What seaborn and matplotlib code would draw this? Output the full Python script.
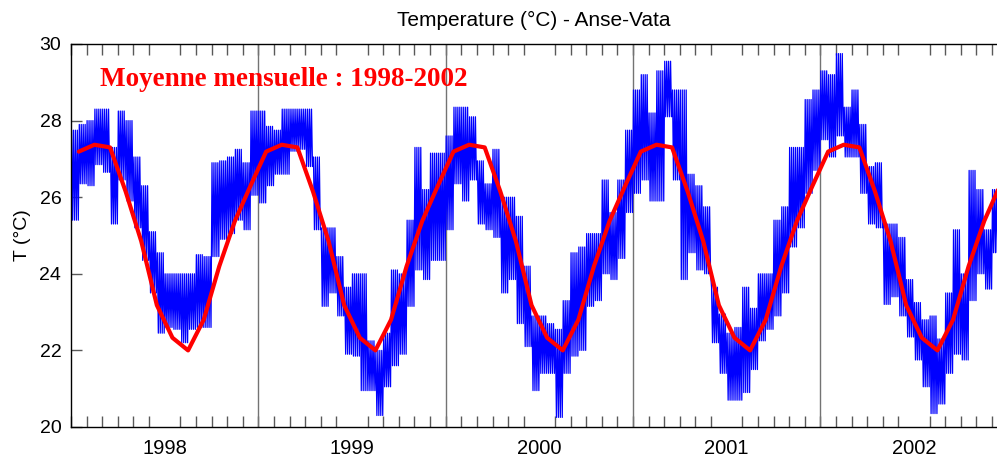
import numpy as np
import pandas as pd
import matplotlib
matplotlib.use("Agg")
import matplotlib.pyplot as plt
import seaborn as sns

# ---------------- data ----------------
years = [1998, 1999, 2000, 2001, 2002]
year_labels = ["1998", "1999", "2000", "2001", "2002"]

# monthly mean climatology 1998-2002 (Jan..Dec), °C
monthly_mean = [27.19, 27.37, 27.30, 26.15, 24.85, 23.18,
                22.33, 22.00, 22.80, 24.20, 25.38, 26.30]

# envelope of the high-frequency record, one pair per half-month from Jan 1998
temp_high = [27.75, 27.9, 28.0, 28.3, 28.3, 27.3, 28.25, 28.0, 27.05, 26.3,
             25.1, 24.55, 24.0, 24.0, 24.0, 24.0, 24.5, 24.45, 26.9, 26.95,
             27.05, 27.25, 26.9, 28.25, 28.25, 27.85, 27.75, 28.3, 28.3, 28.3,
             28.3, 27.05, 25.2, 25.2, 24.45, 23.65, 24.0, 24.0, 22.25, 22.0,
             22.45, 24.1, 24.0, 25.4, 27.3, 26.2, 27.15, 27.15, 27.6, 28.35,
             28.35, 28.1, 26.95, 26.35, 27.25, 26.0, 26.0, 25.5, 24.2, 22.9,
             22.9, 22.7, 22.55, 23.3, 24.55, 24.7, 25.05, 25.05, 26.45, 25.6,
             26.45, 27.75, 28.8, 29.2, 28.2, 29.3, 29.55, 28.8, 28.8, 26.6,
             26.3, 25.75, 23.65, 22.95, 22.45, 22.6, 23.65, 23.1, 24.0, 24.0,
             25.4, 25.75, 27.3, 27.3, 28.55, 28.8, 29.3, 29.2, 29.75, 28.35,
             28.8, 27.9, 26.8, 26.9, 25.3, 25.3, 24.95, 23.85, 23.25, 22.8,
             22.9, 22.3, 23.5, 25.15, 24.0, 26.7, 26.2, 25.15, 26.2]
temp_low = [25.4, 26.35, 26.3, 26.85, 26.65, 25.3, 26.45, 25.9, 25.2, 24.35,
            23.5, 22.45, 22.6, 22.55, 22.2, 22.55, 22.6, 22.6, 24.45, 24.9,
            25.05, 25.4, 25.15, 26.05, 25.85, 26.3, 26.6, 26.6, 27.2, 27.25,
            26.8, 25.15, 23.15, 23.5, 22.9, 21.9, 21.85, 20.95, 20.95, 20.3,
            21.05, 21.6, 21.9, 23.15, 24.1, 23.85, 24.35, 24.35, 25.15, 26.35,
            25.9, 26.45, 25.3, 25.15, 24.95, 23.5, 23.85, 22.7, 22.1, 20.95,
            21.4, 21.4, 20.25, 21.4, 21.85, 22.0, 23.15, 23.3, 24.0, 23.85,
            24.4, 25.6, 26.1, 26.45, 25.9, 25.9, 28.1, 26.45, 23.85, 24.55,
            24.1, 24.0, 22.2, 21.4, 20.7, 20.7, 20.9, 21.5, 22.25, 22.55,
            22.9, 23.5, 24.7, 25.2, 26.1, 26.7, 27.5, 27.05, 27.6, 27.05,
            27.05, 26.1, 25.3, 25.2, 23.2, 23.4, 22.9, 22.35, 21.75, 21.05,
            20.35, 20.6, 21.4, 21.9, 21.75, 23.3, 24.0, 23.6, 24.55]

title = "Temperature (°C) - Anse-Vata"
ylabel = "T (°C)"
annotation = "Moyenne mensuelle : 1998-2002"

# ---------------- tables ----------------
red_x = [y + (m + 0.5) / 12 for y in years for m in range(12)]
red_y = monthly_mean * len(years)
df_mean = pd.DataFrame({"t": red_x, "T": red_y})

half = 1 / 24
n_sub = 8
bx, by = [], []
for k, (h, l) in enumerate(zip(temp_high, temp_low)):
    x0 = years[0] + k * half
    for j in range(n_sub):
        bx.append(x0 + (j + 0.5) * half / n_sub)
        by.append(h if j % 2 == 0 else l)
df_raw = pd.DataFrame({"t": bx, "T": by})

# ---------------- figure ----------------
sns.set_theme(style="ticks")
plt.rcParams["font.family"] = ["Liberation Sans", "DejaVu Sans"]

fig = plt.figure(figsize=(9.97, 4.57), dpi=100)
ax = fig.add_axes([71 / 997, 30 / 457, 926 / 997, 383 / 457])

sns.lineplot(data=df_raw, x="t", y="T", ax=ax, color="#0000ff", lw=0.9,
             estimator=None, sort=False, zorder=2)
sns.lineplot(data=df_mean, x="t", y="T", ax=ax, color="#ff0000", lw=3.0,
             estimator=None, sort=False, zorder=3)

for y in years[1:]:
    ax.axvline(y, color="0.45", lw=1.0, zorder=1)

ax.set_xlim(1998.0, 2002.943)
ax.set_ylim(20, 30)

# year labels at mid-year (major, no tick mark), month ticks (minor)
ax.set_xticks([y + 0.5 for y in years])
ax.set_xticklabels(year_labels)
ax.set_xticks([years[0] + i / 12 for i in range(12 * len(years))], minor=True)
ax.tick_params(axis="x", which="minor", direction="in", top=True, bottom=True,
               length=8, width=1, color="0.35")
ax.tick_params(axis="x", which="major", length=0, pad=9, labelsize=14.5,
               labelcolor="black")
ax.set_yticks([20, 22, 24, 26, 28, 30])
ax.tick_params(axis="y", direction="in", left=True, right=False, length=8,
               width=1, color="0.35", labelsize=14, pad=7, labelcolor="black")

for s in ax.spines.values():
    s.set_color("black")
    s.set_linewidth(1.0)
ax.spines["right"].set_visible(False)

ax.set_xlabel("")
ax.set_ylabel(ylabel, fontsize=14, labelpad=6, color="black")
ax.set_title(title, fontsize=15, pad=13, color="black")

ax.text(1998.155, 28.91, annotation, color="#ff0000", fontsize=19.5,
        fontweight="bold", family=["Liberation Serif", "DejaVu Serif"],
        ha="left", va="baseline", zorder=4)

fig.savefig("out.png", dpi=100)
